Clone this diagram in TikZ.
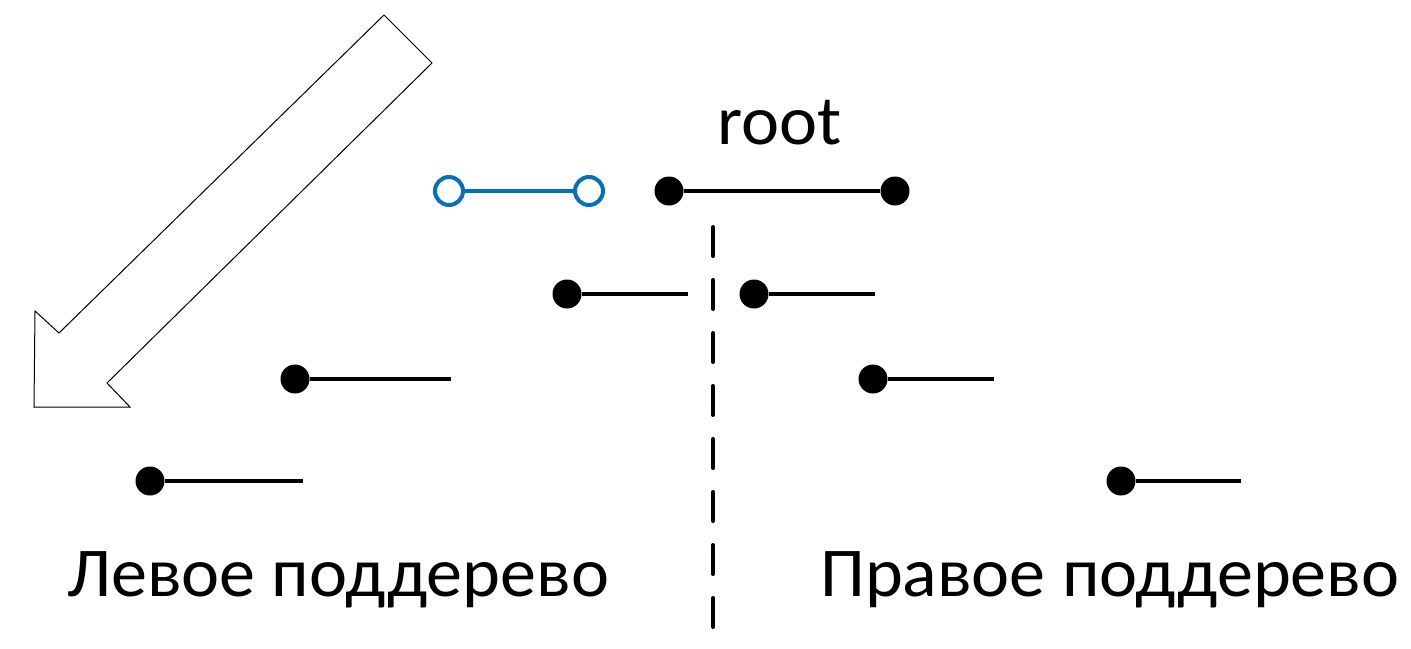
\documentclass[tikz,border=0pt]{standalone}
\usepackage{fontspec}
\setmainfont{Carlito}
\definecolor{segblue}{HTML}{0070C0}
\begin{document}
\begin{tikzpicture}[x=1pt,y=-1pt,
  dot/.style={circle,fill=black,inner sep=0pt,minimum size=29pt},
  odot/.style={circle,draw=segblue,line width=4pt,fill=white,inner sep=0pt,minimum size=28pt},
  seg/.style={line width=4.5pt},
  bseg/.style={line width=4pt,draw=segblue},
  lbl/.style={font=\fontsize{70}{84}\selectfont,inner sep=0pt,anchor=base west,xscale=1.03}]
\useasboundingbox (0,0) rectangle (1411,648);
% big hollow arrow
\draw[line width=1pt,line join=miter] (384,15) -- (432,63) -- (107,383) -- (130,407) -- (34,407) -- (35,311) -- (59,333) -- cycle;
% root
\node[lbl,anchor=base] (root) at (779.5,144) {root};
% blue segment
\node[odot] (b1) at (449,191) {};
\node[odot] (b2) at (589,191) {};
\draw[bseg] (b1) -- (b2);
% root segment
\node[dot] (r1) at (669,191) {};
\node[dot] (r2) at (895,191) {};
\draw[seg] (r1) -- (r2);
% dashed split line
\coordinate (dtop) at (713,227);
\coordinate (dbot) at (713,633);
\draw[line width=4pt,line cap=round,dash pattern=on 29pt off 24pt] (dtop) -- (dbot);
% row 2
\node[dot] (l2) at (567,294) {};
\coordinate (l2e) at (688,294);
\draw[seg] (l2) -- (l2e);
\node[dot] (r2a) at (754,294) {};
\coordinate (r2e) at (875,294);
\draw[seg] (r2a) -- (r2e);
% row 3
\node[dot] (l3) at (295,379) {};
\coordinate (l3e) at (451,379);
\draw[seg] (l3) -- (l3e);
\node[dot] (r3) at (873,379) {};
\coordinate (r3e) at (994,379);
\draw[seg] (r3) -- (r3e);
% row 4
\node[dot] (l4) at (150,481) {};
\coordinate (l4e) at (303,481);
\draw[seg] (l4) -- (l4e);
\node[dot] (r4) at (1121,481) {};
\coordinate (r4e) at (1241,481);
\draw[seg] (r4) -- (r4e);
% labels
\node[lbl] (left) at (67,596) {Левое поддерево};
\node[lbl] (right) at (820,596) {Правое поддерево};
\end{tikzpicture}
\end{document}
